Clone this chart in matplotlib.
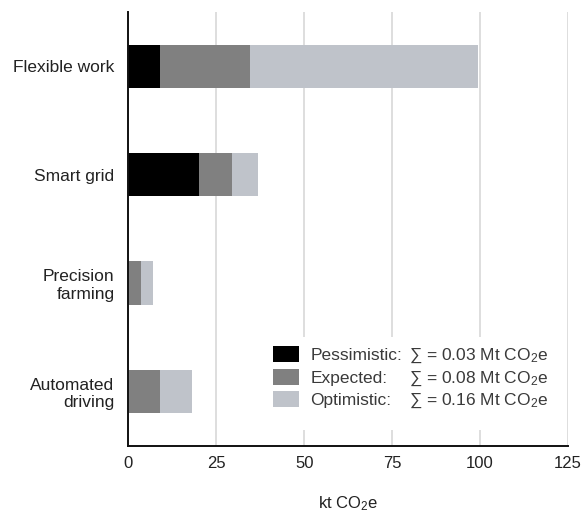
import matplotlib
matplotlib.use('Agg')
import matplotlib.pyplot as plt
from matplotlib.patches import Patch, Rectangle
import numpy as np

# ---- data ----
categories = ['Flexible work', 'Smart grid', 'Precision\nfarming', 'Automated\ndriving']
pessimistic = [8.9, 20.2, 0.0, 0.0]
expected = [34.7, 29.4, 3.7, 9.0]
optimistic = [99.4, 36.9, 7.1, 18.2]
scenario_names = ['Pessimistic:', 'Expected:', 'Optimistic:']
x_ticks = [0, 25, 50, 75, 100, 125]

plt.rcParams['font.family'] = ['Liberation Sans', 'DejaVu Sans']
plt.rcParams['mathtext.fontset'] = 'custom'
plt.rcParams['mathtext.rm'] = 'Liberation Sans'
plt.rcParams['mathtext.it'] = 'Liberation Sans:italic'
plt.rcParams['mathtext.bf'] = 'Liberation Sans:bold'

colors = ['#000000', '#808080', '#bfc3ca']
text_color = '#222222'
legend_text_color = '#3a3a3a'
legend_fs = 12.5

fig = plt.figure(figsize=(5.82, 5.12), dpi=100)
ax = fig.add_axes([128.3 / 582, 1 - 445.5 / 512, (568 - 128.3) / 582, (445.5 - 12) / 512])

y = np.arange(len(categories))
h = 0.4
ax.barh(y, optimistic, height=h, color=colors[2], zorder=2)
ax.barh(y, expected, height=h, color=colors[1], zorder=3)
ax.barh(y, pessimistic, height=h, color=colors[0], zorder=4)

ax.set_ylim(len(categories) - 0.5, -0.5)
ax.set_xlim(x_ticks[0], x_ticks[-1])
ax.set_xticks(x_ticks)
ax.set_yticks(y)
ax.set_yticklabels(categories, fontsize=12.5, color=text_color)
ax.tick_params(axis='x', length=0, pad=7.5, labelsize=12, labelcolor=text_color)
ax.tick_params(axis='y', length=0, pad=10)
ax.set_xlabel('kt CO$_\\mathrm{2}$e', fontsize=12, color=text_color, labelpad=17)

ax.set_axisbelow(True)
ax.grid(axis='x', color='#d4d4d4', linewidth=1.1)
ax.grid(axis='y', visible=False)
for s in ['top', 'right']:
    ax.spines[s].set_visible(False)
for s in ['left', 'bottom']:
    ax.spines[s].set_linewidth(1.4)
    ax.spines[s].set_color('#111111')
    ax.spines[s].set_zorder(6)

# white backdrop behind legend (breaks the gridlines)
W, H = 439.7, 433.5
ax.add_patch(Rectangle(((265 - 128.3) / W, (445.5 - 430) / H),
                       (560 - 265) / W, (430 - 337) / H,
                       transform=ax.transAxes, facecolor='white',
                       edgecolor='none', zorder=1))

handles = [Patch(facecolor=c, edgecolor='none') for c in colors]
leg = ax.legend(handles, scenario_names, loc='upper left',
                bbox_to_anchor=((273 - 128.3) / W, (445.5 - 346) / H),
                frameon=False, borderpad=0, borderaxespad=0,
                handlelength=1.5, handleheight=1.06, handletextpad=0.66,
                labelspacing=0.32, fontsize=legend_fs)
for t in leg.get_texts():
    t.set_color(legend_text_color)

fig.canvas.draw()
series = [pessimistic, expected, optimistic]
for t, vals in zip(leg.get_texts(), series):
    bx, by = t.get_transform().transform(t.get_position())
    total = sum(vals) / 1000.0
    fig.text(409 / 582, by / fig.bbox.height,
             '\u2211 = %.2f Mt CO$_\\mathrm{2}$e' % total,
             fontsize=legend_fs, color=legend_text_color, va='baseline', ha='left')

fig.savefig('out.png', dpi=100)
